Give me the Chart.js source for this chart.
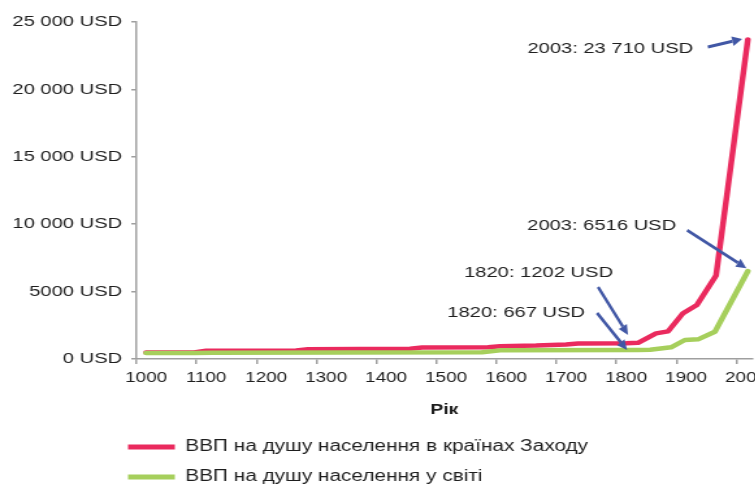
<!DOCTYPE html>
<html><head><meta charset="utf-8">
<script src="https://cdn.jsdelivr.net/npm/chart.js@4.4.1/dist/chart.umd.min.js"></script>
<style>
html,body{margin:0;padding:0;background:#fff;overflow:hidden;width:755px;height:485px;}
#wrap{position:absolute;left:0;top:0;width:620px;height:500px;transform:scaleX(1.3);transform-origin:0 0;}
</style></head><body>
<div id="wrap"><canvas id="c" width="620" height="500"></canvas></div>
<script>
// ---- data ----
const seriesNames = ['ВВП на душу населення в країнах Заходу', 'ВВП на душу населення у світі'];
const westYears  = [1000, 1080, 1100, 1250, 1270, 1440, 1460, 1570, 1590, 1650, 1700, 1720, 1800, 1820, 1850, 1870, 1895, 1918, 1950, 2003];
const westValues = [480, 480, 610, 630, 720, 760, 850, 870, 950, 1000, 1080, 1150, 1170, 1202, 1900, 2050, 3400, 4000, 6200, 23710];
const worldYears  = [1000, 1080, 1110, 1560, 1590, 1820, 1840, 1875, 1898, 1920, 1948, 2003];
const worldValues = [440, 440, 470, 500, 640, 667, 680, 870, 1410, 1460, 2020, 6516];
const xTickLabels = ['1000','1100','1200','1300','1400','1500','1600','1700','1800','1900','2000'];
const yTickValues = [0, 5000, 10000, 15000, 20000, 25000];
const yTickLabels = ['0 USD','5000 USD','10 000 USD','15 000 USD','20 000 USD','25 000 USD'];
const axisTitle = 'Рік';
const noteYears  = [2003, 2003, 1820, 1820];
const noteValues = [23710, 6516, 1202, 667];
const noteTexts  = ['2003: 23 710 USD', '2003: 6516 USD', '1820: 1202 USD', '1820: 667 USD'];

// ---- style / layout ----
const S = 1.3;
const RED = '#EA2A5E', GREEN = '#A6CF5C', BLUE = '#4157A5', GRAY = '#9f9f9f', TXT = '#1e1e1e';
const FONT = "'Liberation Sans', Arial, Helvetica, sans-serif";
const tickShiftYears = 16;
const legendShift = 84.5;
const noteLayout = [
  {tail:[-40, 7.6],  head:[-5.7, -0.4], text:[-54.7, 9.6]},
  {tail:[-60.7,-41], head:[-1.5, -3],   text:[-71.7, -45.2]},
  {tail:[-40,-55.8], head:[-10, -7.8],  text:[-25, -69.8]},
  {tail:[-41,-37],   head:[-11, 0],     text:[-53, -37]}
];

Chart.defaults.font.family = FONT;
Chart.defaults.color = TXT;

const notesPlugin = {
  id: 'notes',
  afterLayout(chart) {
    if (chart.legend) { chart.legend.left += legendShift; chart.legend.right += legendShift; }
  },
  afterDatasetsDraw(chart) {
    const {ctx, scales: {x, y}} = chart;
    noteTexts.forEach((t, i) => {
      const px = x.getPixelForValue(noteYears[i]);
      const py = y.getPixelForValue(noteValues[i]);
      const L = noteLayout[i];
      ctx.save();
      ctx.scale(1 / S, 1);
      const vx = px * S;
      const tx = vx + L.tail[0], ty = py + L.tail[1];
      const hx = vx + L.head[0], hy = py + L.head[1];
      const a = Math.atan2(hy - ty, hx - tx);
      const hl = 10, hw = 4.8;
      const bx = hx - hl * Math.cos(a), by = hy - hl * Math.sin(a);
      ctx.strokeStyle = BLUE; ctx.lineWidth = 3; ctx.lineCap = 'butt';
      ctx.beginPath(); ctx.moveTo(tx, ty); ctx.lineTo(bx, by); ctx.stroke();
      ctx.fillStyle = BLUE;
      ctx.beginPath();
      ctx.moveTo(hx, hy);
      ctx.lineTo(bx - hw * Math.sin(a), by + hw * Math.cos(a));
      ctx.lineTo(bx + hw * Math.sin(a), by - hw * Math.cos(a));
      ctx.closePath(); ctx.fill();
      ctx.restore();
      ctx.save();
      ctx.font = '15.5px ' + FONT;
      ctx.fillStyle = TXT;
      ctx.textAlign = 'right';
      ctx.textBaseline = 'middle';
      ctx.fillText(t, px + L.text[0] / S, py + L.text[1]);
      ctx.restore();
    });
  }
};

const lineStyle = {borderWidth: 4.5, pointRadius: 0, tension: 0, borderCapStyle: 'round', borderJoinStyle: 'round', fill: false};

new Chart(document.getElementById('c'), {
  type: 'line',
  data: {
    datasets: [
      Object.assign({label: seriesNames[0], data: westYears.map((v, i) => ({x: v, y: westValues[i]})), borderColor: RED, backgroundColor: RED, order: 1}, lineStyle),
      Object.assign({label: seriesNames[1], data: worldYears.map((v, i) => ({x: v, y: worldValues[i]})), borderColor: GREEN, backgroundColor: GREEN, order: 0}, lineStyle)
    ]
  },
  options: {
    responsive: false,
    animation: false,
    events: [],
    layout: {padding: {left: 0, right: 41.5, top: 22, bottom: 5}},
    plugins: {
      tooltip: {enabled: false},
      legend: {
        position: 'bottom',
        align: 'start',
        labels: {
          boxWidth: 36, boxHeight: 5, padding: 14, color: TXT, font: {size: 16},
          sort: (a, b) => a.datasetIndex - b.datasetIndex,
          generateLabels: (chart) => Chart.defaults.plugins.legend.labels.generateLabels(chart)
            .map(it => Object.assign(it, {lineWidth: 0, fillStyle: it.strokeStyle}))
        }
      }
    },
    scales: {
      x: {
        type: 'linear', min: 984, max: 2010,
        afterBuildTicks: s => { s.ticks = xTickLabels.map(l => ({value: Number(l) - tickShiftYears})); },
        afterFit: s => { s.height = 66; },
        border: {color: GRAY, width: 1.5},
        grid: {drawOnChartArea: false, tickLength: 5, color: GRAY, lineWidth: 1.5},
        ticks: {padding: 5, labelOffset: 7.4, autoSkip: false, maxRotation: 0, font: {size: 14.5}, color: TXT,
                callback: (v, i) => xTickLabels[i]},
        title: {display: true, text: axisTitle, color: TXT, font: {size: 15, weight: 'bold'}, padding: {top: 0, bottom: 6}}
      },
      y: {
        min: 0, max: 25000,
        afterBuildTicks: s => { s.ticks = yTickValues.map(v => ({value: v})); },
        afterFit: s => { s.width = 105; },
        border: {color: GRAY, width: 1.5},
        grid: {drawOnChartArea: false, tickLength: 4, color: GRAY, lineWidth: 1.5},
        ticks: {padding: 7, autoSkip: false, font: {size: 15.5}, color: TXT,
                callback: (v, i) => yTickLabels[i]}
      }
    }
  },
  plugins: [notesPlugin]
});
</script>
</body></html>
